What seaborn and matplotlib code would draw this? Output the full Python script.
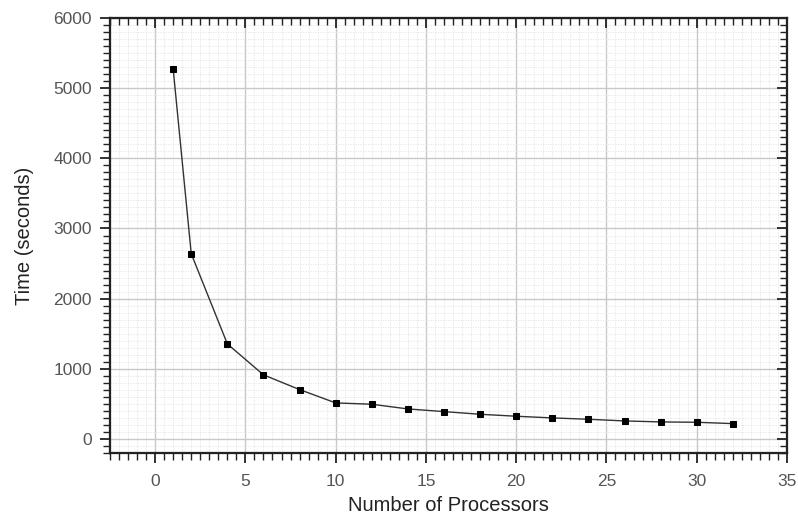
import matplotlib
matplotlib.use("Agg")
import matplotlib.pyplot as plt
import seaborn as sns
import pandas as pd
from matplotlib.ticker import MultipleLocator

processors = [1, 2, 4, 6, 8, 10, 12, 14, 16, 18, 20, 22, 24, 26, 28, 30, 32]
times = [5270, 2640, 1355, 914, 704, 514, 495, 428, 390, 352, 324, 300, 281, 257, 243, 238, 219]

df = pd.DataFrame({"Number of Processors": processors, "Time (seconds)": times})

sns.set_style("ticks")
plt.rcParams['font.family'] = ['Liberation Sans', 'DejaVu Sans']

fig = plt.figure(figsize=(7.98, 5.16), dpi=100)
ax = fig.add_axes([110/798, 1-453/516, (787-110)/798, (453-18)/516])

ax.xaxis.set_major_locator(MultipleLocator(5))
ax.xaxis.set_minor_locator(MultipleLocator(0.5))
ax.yaxis.set_major_locator(MultipleLocator(1000))
ax.yaxis.set_minor_locator(MultipleLocator(100))
ax.grid(True, which='major', color='#c8c8c8', linewidth=1.0)
ax.grid(True, which='minor', color='#e4e4e4', linewidth=0.6, linestyle=(0, (1.5, 1.5)))
ax.set_axisbelow(True)

sns.lineplot(data=df, x="Number of Processors", y="Time (seconds)", ax=ax,
             color='#333333', linewidth=1.0, marker='s', markersize=5,
             markerfacecolor='black', markeredgecolor='black')

ax.set_xlim(-2.5, 35)
ax.set_ylim(-200, 6000)

for s in ax.spines.values():
    s.set_visible(True)
    s.set_color('#222222')
    s.set_linewidth(1.5)

ax.tick_params(which='major', direction='out', length=7, width=1.3, color='#222222',
               bottom=True, left=True, top=False, right=False,
               labelsize=12.5, labelcolor='#555555')
ax.tick_params(which='minor', direction='out', length=5, width=1.0, color='#222222',
               bottom=True, left=True, top=False, right=False)
ax.tick_params(axis='x', pad=8)
ax.tick_params(axis='y', pad=6)

# inward ticks on top and right via twin axes
axt = ax.twiny()
axt.set_xlim(ax.get_xlim())
axt.xaxis.set_major_locator(MultipleLocator(5))
axt.xaxis.set_minor_locator(MultipleLocator(0.5))
axt.tick_params(axis='x', which='major', direction='in', length=7, width=1.3,
                color='#222222', top=True, bottom=False, labeltop=False, labelbottom=False)
axt.tick_params(axis='x', which='minor', direction='in', length=5, width=1.0,
                color='#222222', top=True, bottom=False)
axt.tick_params(axis='y', left=False, right=False, labelleft=False, labelright=False)

axr = ax.twinx()
axr.set_ylim(ax.get_ylim())
axr.yaxis.set_major_locator(MultipleLocator(1000))
axr.yaxis.set_minor_locator(MultipleLocator(100))
axr.tick_params(axis='y', which='major', direction='in', length=7, width=1.3,
                color='#222222', right=True, left=False, labelright=False, labelleft=False)
axr.tick_params(axis='y', which='minor', direction='in', length=5, width=1.0,
                color='#222222', right=True, left=False)
axr.tick_params(axis='x', top=False, bottom=False, labeltop=False, labelbottom=False)
for a in (axt, axr):
    for s in a.spines.values():
        s.set_color('#222222')
        s.set_linewidth(1.5)

ax.set_xlabel("Number of Processors", fontsize=14.5, color='#222222', labelpad=5)
ax.set_ylabel("Time (seconds)", fontsize=14.5, color='#222222', labelpad=14)

fig.savefig("out.png", dpi=100)
